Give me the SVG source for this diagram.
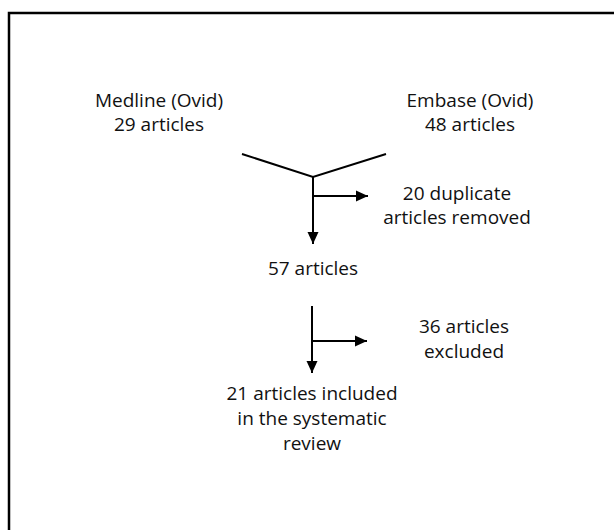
<svg xmlns="http://www.w3.org/2000/svg" width="614" height="530" viewBox="0 0 614 530">
<defs>
<style>
text{font-family:"Open Sans","Liberation Sans",sans-serif;font-size:19px;fill:#111;text-anchor:middle}
.ln{stroke:#000;stroke-width:2;fill:none}
</style>
<marker id="ah" markerUnits="userSpaceOnUse" markerWidth="12" markerHeight="12" viewBox="0 0 12 12" refX="12" refY="6" orient="auto">
<path d="M0,0.5 L12,6 L0,11.5 Z" fill="#000"/>
</marker>
</defs>
<rect width="614" height="530" fill="#fff"/>
<path d="M9,531 V13 H615" stroke="#000" stroke-width="2.5" fill="none"/>
<g id="medline"><text x="159" y="107">Medline (Ovid)</text><text x="159" y="131">29 articles</text></g>
<g id="embase"><text x="470" y="107">Embase (Ovid)</text><text x="470" y="131">48 articles</text></g>
<g id="duplicates"><text x="457" y="200">20 duplicate</text><text x="457" y="224">articles removed</text></g>
<g id="n57"><text x="313" y="275">57 articles</text></g>
<g id="excluded"><text x="464" y="333">36 articles</text><text x="464" y="358">excluded</text></g>
<g id="included"><text x="312" y="400">21 articles included</text><text x="312" y="425">in the systematic</text><text x="312" y="450">review</text></g>
<g id="connectors">
<path class="ln" d="M242,154 L313,177 L386,154"/>
<path class="ln" d="M313,177 V244" marker-end="url(#ah)"/>
<path class="ln" d="M313,196 H368" marker-end="url(#ah)"/>
<path class="ln" d="M312,306 V373" marker-end="url(#ah)"/>
<path class="ln" d="M312,341 H367" marker-end="url(#ah)"/>
</g>
</svg>
